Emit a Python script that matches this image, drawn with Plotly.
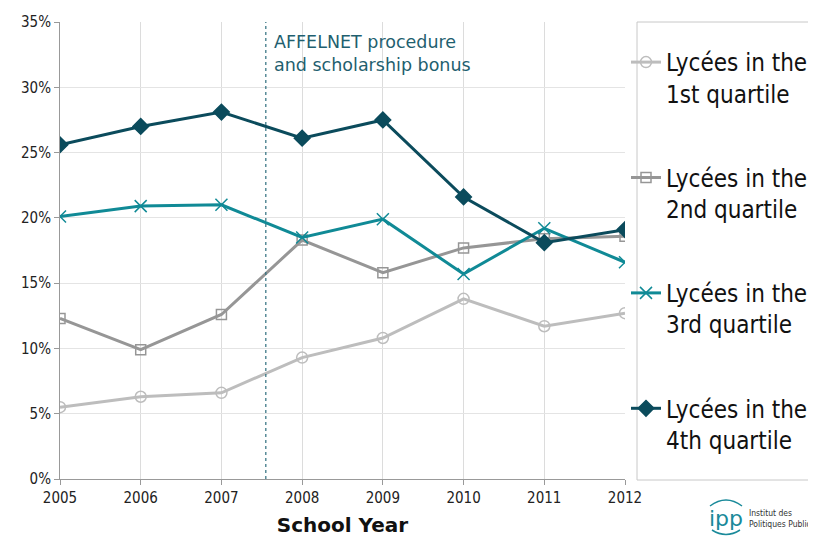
import plotly.graph_objects as go

years = [2005, 2006, 2007, 2008, 2009, 2010, 2011, 2012]
q1 = [5.5, 6.3, 6.6, 9.3, 10.8, 13.8, 11.7, 12.7]
q2 = [12.3, 9.9, 12.6, 18.3, 15.8, 17.7, 18.4, 18.6]
q3 = [20.1, 20.9, 21.0, 18.5, 19.9, 15.7, 19.2, 16.6]
q4 = [25.6, 27.0, 28.1, 26.1, 27.5, 21.6, 18.1, 19.1]
names = ["Lycées in the<br>1st quartile", "Lycées in the<br>2nd quartile",
         "Lycées in the<br>3rd quartile", "Lycées in the<br>4th quartile"]
reform_year = 2007.55
y_ticks = [0, 5, 10, 15, 20, 25, 30, 35]
y_labels = ["0%", "5%", "10%", "15%", "20%", "25%", "30%", "35%"]

colors = ["#bdbdbd", "#969696", "#108a96", "#0b4b5c"]
symbols = ["circle-open", "square-open", "x-thin-open", "diamond"]
sizes = [11, 10, 12, 12]

# the page body adds an 8px offset; compensate so the screen matches
OFF = 8
W, H = 816 - OFF, 538 - OFF
L, T = 60 - OFF, 22 - OFF
PW, PH = 565, 457
R = W - L - PW
B = H - T - PH

def px(xs):  # screen x -> paper
    return (xs - OFF - L) / PW
def py(ys):  # screen y -> paper
    return (H - B - (ys - OFF)) / PH

fig = go.Figure()
for i, (vals, name) in enumerate(zip([q1, q2, q3, q4], names)):
    fig.add_trace(go.Scatter(
        x=years, y=vals, name=name, mode="lines+markers",
        line=dict(color=colors[i], width=3),
        marker=dict(symbol=symbols[i], size=sizes[i], color=colors[i],
                    line=dict(color=colors[i], width=1.5)),
        legendgroup=f"g{i}",
    ))

fig.add_shape(type="line", xref="x", yref="y", x0=reform_year, x1=reform_year,
              y0=0, y1=35, line=dict(color="#2e6e7e", width=1.2, dash="dot"))

fig.add_annotation(x=reform_year, y=35, xref="x", yref="y", xanchor="left",
                   yanchor="top", xshift=6, yshift=-8, showarrow=False, align="left",
                   text="AFFELNET procedure<br>and scholarship bonus",
                   font=dict(family="DejaVu Sans", size=17.5, color="#1f5f6f"))

# legend frame
fig.add_shape(type="rect", xref="paper", yref="paper",
              x0=px(637), x1=px(840), y0=py(480), y1=py(22),
              line=dict(color="#c8c8c8", width=1), fillcolor="rgba(0,0,0,0)", layer="below")

# logo
fig.add_annotation(x=px(726), y=py(518), xref="paper", yref="paper", showarrow=False,
                   xanchor="center", yanchor="middle",
                   text="ipp", font=dict(family="DejaVu Sans", size=22, color="#1a8a9a"))
fig.add_shape(type="path", xref="paper", yref="paper",
              path=f"M {px(710)} {py(506)} Q {px(726)} {py(494)} {px(742)} {py(506)}",
              line=dict(color="#1a8a9a", width=1.5))
fig.add_shape(type="path", xref="paper", yref="paper",
              path=f"M {px(712)} {py(530)} Q {px(726)} {py(539)} {px(740)} {py(530)}",
              line=dict(color="#1a8a9a", width=1.5))
fig.add_annotation(x=px(747), y=py(518), xref="paper", yref="paper", showarrow=False,
                   xanchor="left", yanchor="middle", align="left",
                   text="Institut des<br>Politiques Publiques",
                   font=dict(family="DejaVu Sans Condensed, DejaVu Sans", size=8.5, color="#333"))

fig.update_layout(
    width=W, height=H,
    margin=dict(l=L, r=R, t=T, b=B, autoexpand=False),
    plot_bgcolor="white", paper_bgcolor="white",
    font=dict(family="DejaVu Sans Condensed, DejaVu Sans", size=15, color="#222"),
    showlegend=True,
    legend=dict(
        xref="container", yref="container",
        x=(626 - OFF) / W, xanchor="left", y=1 - (40 - OFF) / H, yanchor="top",
        font=dict(family="DejaVu Sans Condensed, DejaVu Sans", size=24, color="#111"),
        borderwidth=0, bgcolor="rgba(0,0,0,0)",
        itemwidth=30, valign="top", tracegroupgap=50, maxheight=H,
    ),
    xaxis=dict(
        range=[2005, 2012], tickmode="array", tickvals=years,
        showgrid=True, gridcolor="#dcdcdc", gridwidth=1,
        showline=True, linecolor="#999", linewidth=1,
        ticks="outside", ticklen=5, tickcolor="#999",
        title=dict(text="<b>School Year</b>", standoff=11,
                   font=dict(family="DejaVu Sans", size=20, color="#111")),
        zeroline=False,
    ),
    yaxis=dict(
        range=[0, 35], tickmode="array", tickvals=y_ticks, ticktext=y_labels,
        showgrid=True, gridcolor="#e4e4e4", gridwidth=1,
        showline=True, linecolor="#999", linewidth=1,
        ticks="outside", ticklen=5, tickcolor="#999",
        zeroline=False,
    ),
)

fig.write_html("out.html")
